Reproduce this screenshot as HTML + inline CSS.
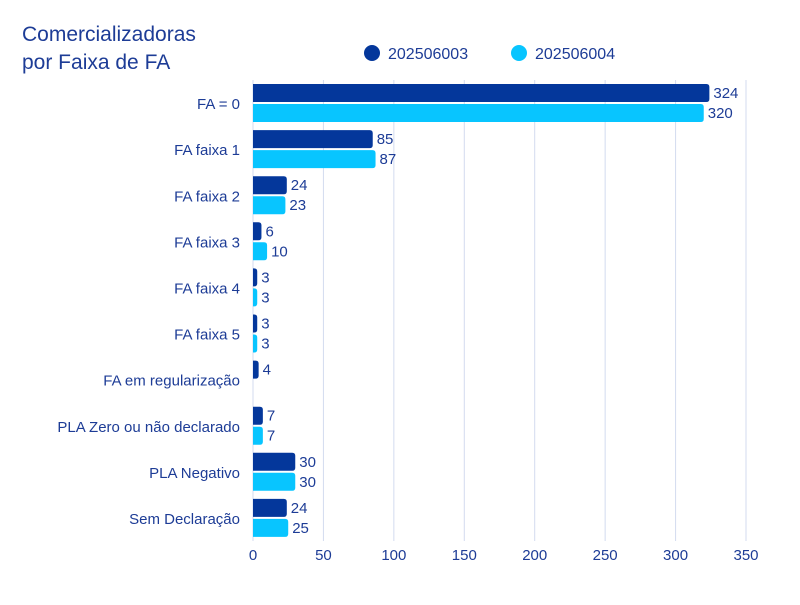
<!DOCTYPE html>
<html><head><meta charset="utf-8"><style>
body{margin:0;background:#fff;font-family:"Liberation Sans",sans-serif}
svg text{font-family:"Liberation Sans",sans-serif;fill:#1d3c96}
</style></head><body>
<svg id="chart" width="800" height="600" viewBox="0 0 800 600">
<text x="22" y="41" font-size="21">Comercializadoras</text>
<text x="22" y="69" font-size="21">por Faixa de FA</text>
<g>
<circle cx="372" cy="53" r="8" fill="#04379b"/>
<text x="388" y="59" font-size="16">202506003</text>
<circle cx="519" cy="53" r="8" fill="#08c5ff"/>
<text x="535" y="59" font-size="16">202506004</text>
</g>
<g id="grid"></g><g id="bars"></g><g id="labels"></g>
</svg>
<script>
const categories=["FA = 0","FA faixa 1","FA faixa 2","FA faixa 3","FA faixa 4","FA faixa 5","FA em regularização","PLA Zero ou não declarado","PLA Negativo","Sem Declaração"];
const series1=[324,85,24,6,3,3,4,7,30,24];
const series2=[320,87,23,10,3,3,null,7,30,25];
const ticks=[0,50,100,150,200,250,300,350];
const NS="http://www.w3.org/2000/svg";
const x0=253,x1=746,xmax=350,yTop=80,yBottom=541;
const xs=v=>x0+v/xmax*(x1-x0);
const band=(yBottom-yTop)/categories.length;
function mk(t,a,p){const e=document.createElementNS(NS,t);for(const k in a)e.setAttribute(k,a[k]);document.getElementById(p).appendChild(e);return e;}
ticks.forEach(t=>{
 const l=mk('line',{x1:xs(t),x2:xs(t),y1:yTop,y2:yBottom,stroke:'#d3dbef','stroke-width':1},'grid');
 
 
 const tx=mk('text',{x:xs(t),y:560,'font-size':15,'text-anchor':'middle'},'labels');
 tx.textContent=t;
 
 
});
function bar(v,y,color,name){
 const w=xs(v)-x0,r=3,h=18;
 const p=mk('path',{d:`M${x0},${y}H${x0+w-r}Q${x0+w},${y} ${x0+w},${y+r}V${y+h-r}Q${x0+w},${y+h} ${x0+w-r},${y+h}H${x0}Z`,fill:color},'bars');
 
 
 const t=mk('text',{x:x0+w+4,y:y+14,'font-size':15},'labels');
 t.textContent=v;
 
 
}
categories.forEach((c,i)=>{
 const by=yTop+i*band;
 const t=mk('text',{x:240,y:by+band/2+6,'font-size':15,'text-anchor':'end'},'labels');
 t.textContent=c;
 
 
 if(series1[i]!=null)bar(series1[i],by+4,'#04379b','bar-202506003-'+i);
 if(series2[i]!=null)bar(series2[i],by+24,'#08c5ff','bar-202506004-'+i);
});
</script>
</body></html>
